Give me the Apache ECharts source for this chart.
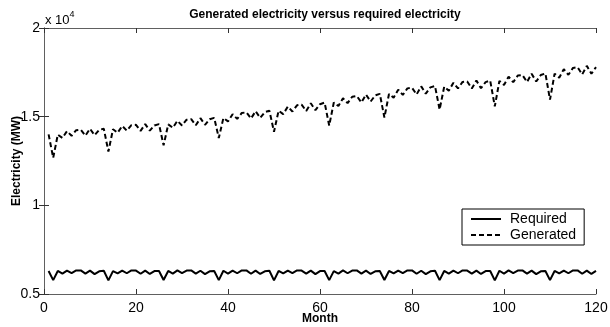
<!DOCTYPE html>
<html>
<head>
<meta charset="utf-8">
<script src="https://cdn.jsdelivr.net/npm/echarts@6/dist/echarts.min.js"></script>
<style>html,body{margin:0;padding:0;background:#fff;}#c{width:610px;height:327px;}</style>
</head>
<body>
<div id="c"></div>
<script>
const months = Array.from({length:120}, (_, i) => i + 1);
const required = [
6300,5780,6300,6150,6320,6180,6330,6330,6150,6320,6120,6280,
6310,5770,6290,6160,6320,6170,6330,6320,6140,6320,6130,6290,
6300,5790,6300,6150,6330,6180,6320,6330,6150,6310,6120,6280,
6300,5780,6310,6150,6320,6170,6330,6330,6140,6320,6130,6280,
6310,5770,6300,6160,6320,6180,6330,6320,6150,6320,6120,6290,
6300,5780,6290,6150,6330,6170,6320,6330,6150,6320,6130,6280,
6300,5790,6300,6160,6320,6180,6330,6330,6140,6310,6120,6280,
6310,5780,6300,6150,6320,6170,6330,6320,6150,6320,6130,6290,
6300,5770,6310,6150,6330,6180,6320,6330,6150,6320,6120,6280,
6300,5780,6300,6160,6320,6170,6330,6330,6140,6320,6130,6300
];
const generated = [
14000,12680,13985,13800,14180,13924,14235,14262,13934,14316,13959,14257,
14321,13030,14291,14096,14477,14210,14519,14540,14199,14583,14210,14506,
14580,13380,14564,14373,14768,14503,14827,14856,14515,14914,14543,14855,
14933,13800,14925,14732,15141,14874,15209,15242,14896,15309,14930,15254,
15337,14150,15335,15141,15564,15292,15640,15678,15324,15753,15366,15703,
15792,14500,15796,15599,16038,15760,16122,16163,15803,16248,15851,16201,
16287,14950,16280,16072,16519,16228,16595,16633,16255,16708,16295,16650,
16725,15400,16691,16464,16909,16597,16959,16984,16586,17035,16602,16949,
17033,15580,17014,16790,17252,16942,17319,17352,16954,17420,16984,17348,
17437,15960,17424,17199,17675,17361,17750,17789,17382,17864,17420,17796
];
const xTicks = [0,20,40,60,80,100,120];
const yTicks = [5000,10000,15000,20000];
const yTickLabels = {5000:'0.5',10000:'1',15000:'1.5',20000:'2'};

const font = 'Liberation Sans, Arial, sans-serif';
const axisCol = '#606060';
const chart = echarts.init(document.getElementById('c'));
const axisCommon = {
  axisLine:{show:true, lineStyle:{color:axisCol, width:1}},
  axisTick:{show:true, inside:true, length:5, lineStyle:{color:'#333'}},
  splitLine:{show:false}
};
chart.setOption({
  animation:false,
  backgroundColor:'#fff',
  title:{text:'Generated electricity versus required electricity', left:320, textAlign:'center', top:4,
    textStyle:{fontFamily:font, fontSize:12, fontWeight:'bold', color:'#000'}},
  grid:{left:44, right:14, top:28, bottom:33, containLabel:false, outerBoundsMode:'none'},
  legend:{orient:'vertical', left:462, top:209, width:121, padding:[3,8,3,8], itemGap:2,
    itemWidth:30, itemHeight:14, backgroundColor:'#fff', borderColor:'#000', borderWidth:1, borderRadius:0,
    itemStyle:{opacity:0},
    textStyle:{fontFamily:font, fontSize:14, color:'#000', padding:[0,0,0,4]},
    data:['Required','Generated']},
  xAxis:[
    Object.assign({type:'value', min:xTicks[0], max:xTicks[xTicks.length-1], interval:20, position:'bottom',
      name:'Month', nameLocation:'middle', nameGap:19, nameMoveOverlap:false,
      nameTextStyle:{fontFamily:font, fontSize:12, fontWeight:'bold', color:'#000'},
      axisLabel:{fontFamily:font, fontSize:14, color:'#000', margin:7}}, axisCommon),
    Object.assign({type:'value', min:0, max:120, interval:20, position:'top', axisLabel:{show:false}}, axisCommon)
  ],
  yAxis:[
    Object.assign({type:'value', min:yTicks[0], max:yTicks[yTicks.length-1], interval:5000, position:'left',
      name:'Electricity (MW)', nameLocation:'middle', nameGap:21, nameRotate:90, nameMoveOverlap:false,
      nameTextStyle:{fontFamily:font, fontSize:12, fontWeight:'bold', color:'#000'},
      axisLabel:{fontFamily:font, fontSize:14, color:'#000', margin:4, formatter:v => yTickLabels[v] || ''}}, axisCommon),
    Object.assign({type:'value', min:5000, max:20000, interval:5000, position:'right', axisLabel:{show:false}}, axisCommon)
  ],
  graphic:[{type:'text', left:45, top:10, style:{
    text:'{a|x 10}{s|4}', rich:{a:{fontFamily:font, fontSize:13, fill:'#000', verticalAlign:'bottom'},
      s:{fontFamily:font, fontSize:9, fill:'#000', verticalAlign:'top', padding:[0,0,8,0]}}}}],
  series:[
    {name:'Required', type:'line', data:months.map((m,i)=>[m, required[i]]), symbol:'none',
      lineStyle:{color:'#000', width:2, type:'solid'}, itemStyle:{color:'#000'}},
    {name:'Generated', type:'line', data:months.map((m,i)=>[m, generated[i]]), symbol:'none',
      lineStyle:{color:'#000', width:2, type:[5,3]}, itemStyle:{color:'#000'}}
  ]
});
</script>
</body>
</html>
